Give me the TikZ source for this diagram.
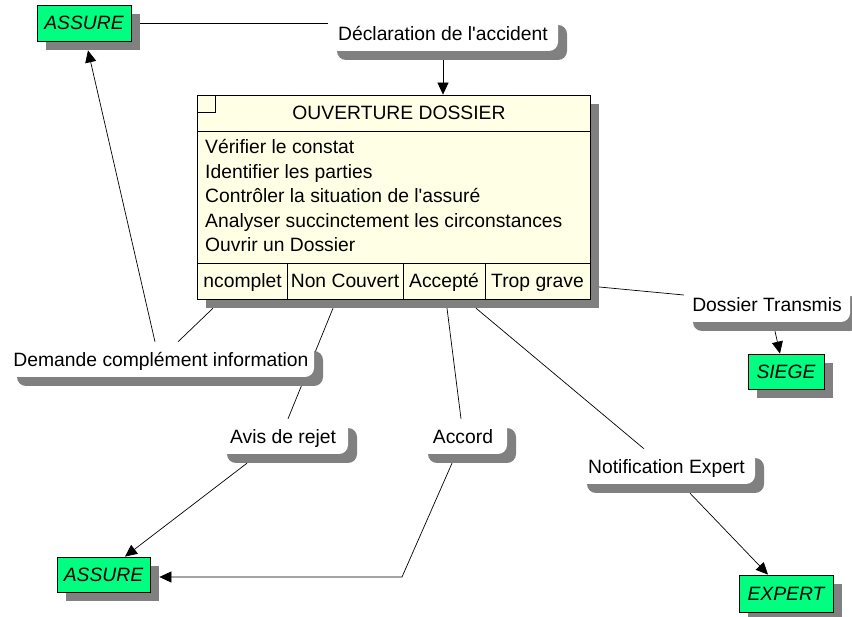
\documentclass[tikz,border=0pt]{standalone}
\usepackage{fontspec}
\setmainfont{Liberation Sans}
\newfontfamily\arialfont{Liberation Sans}
\usetikzlibrary{shadows,arrows.meta,backgrounds}
\definecolor{actorgreen}{RGB}{0,255,128}
\definecolor{shadowgray}{RGB}{128,128,128}
\definecolor{taskcream}{RGB}{255,255,229}
\newcommand\dfont{\arialfont\fontsize{19.3pt}{24pt}\selectfont}
\begin{document}
\begin{tikzpicture}[x=1pt,y=-1pt,
  txt/.style={font=\dfont, text height=14pt, text depth=0pt, inner sep=0pt},
  shadowed/.style={general shadow={fill=shadowgray, shadow xshift=9pt, shadow yshift=-9pt}},
  actor/.style={txt, shadowed, draw=black, line width=0.8pt, fill=actorgreen, font=\dfont\itshape, minimum height=36pt},
  msg/.style={txt, shadowed, fill=white, rounded corners=9pt, minimum height=35pt},
  cell/.style={txt, minimum height=36pt},
  rule/.style={line width=0.8pt},
  link/.style={line width=0.7pt},
  flow/.style={link, -{Triangle[length=12pt,width=11pt]}}
]
\useasboundingbox (0,0) rectangle (852,617);

% actors
\node[actor, minimum width=94pt] (assure1) at (84,23) {ASSURE};
\node[actor, minimum width=76pt, minimum height=35pt] (siege) at (786,371.5) {SIEGE};
\node[actor, minimum width=93pt, minimum height=35pt] (assure2) at (103.5,574.5) {ASSURE};
\node[actor, minimum width=94pt, minimum height=37pt] (expert) at (786,593.5) {EXPERT};

% messages
\node[msg, minimum width=230pt] (decl) at (443,33.5) {Déclaration de l'accident};
\node[msg, minimum width=306pt] (demande) at (161,359.5) {Demande complément information};
\node[msg, minimum width=130pt] (avis) at (283,436.5) {Avis de rejet};
\node[msg, minimum width=88pt] (accord) at (463,436.5) {Accord};
\node[msg, minimum width=177pt] (notif) at (666.5,466.5) {Notification Expert};
\node[msg, minimum width=166pt] (dossier) at (767,304.5) {Dossier Transmis};

% task box
\node[shadowed, draw=black, rule, fill=taskcream, minimum width=393pt, minimum height=204pt, inner sep=0pt] (ouv) at (393.5,197) {};
\draw[rule] (197,95) rectangle (215,112);
\draw[rule] (197,131) -- (590,131);
\draw[rule] (197,263) -- (590,263);
\draw[rule] (287,263) -- (287,299);
\draw[rule] (403,263) -- (403,299);
\draw[rule] (485,263) -- (485,299);
\node[txt] (title) at (399,113) {OUVERTURE DOSSIER};
\node[txt, anchor=west] (t1) at (205,147) {Vérifier le constat};
\node[txt, anchor=west] (t2) at (205,171.5) {Identifier les parties};
\node[txt, anchor=west] (t3) at (205,196) {Contrôler la situation de l'assuré};
\node[txt, anchor=west] (t4) at (205,220.5) {Analyser succinctement les circonstances};
\node[txt, anchor=west] (t5) at (205,245) {Ouvrir un Dossier};
\node[cell, minimum width=90pt] (cell1) at (242,281) {};
\begin{scope}
  \clip (203,263) rectangle (287,299);
  \node[txt, anchor=east] (cell1txt) at (282,281) {Incomplet};
\end{scope}
\node[cell, minimum width=116pt] (cell2) at (345,281) {Non Couvert};
\node[cell, minimum width=82pt] (cell3) at (444,281) {Accepté};
\node[cell, minimum width=105pt] (cell4) at (537.5,281) {Trop grave};

% connectors
\begin{scope}[on background layer]
  \fill[white] (0,0) rectangle (852,617);
  \draw[link] (assure1.east) -- (decl.west |- assure1.east);
  \draw[flow] (decl.south) -- (ouv.north -| decl.south);
  \draw[flow] ([xshift=-6pt]demande.north) -- ([xshift=4pt,yshift=-9pt]assure1.south);
  \draw[link] ([xshift=-29pt,yshift=-9pt]cell1.south) -- ([xshift=17pt]demande.north);
  \draw[link] ([xshift=-12pt,yshift=-9pt]cell2.south) -- ([xshift=5pt]avis.north);
  \draw[link] ([xshift=3pt,yshift=-9pt]cell3.south) -- ([xshift=-2pt]accord.north);
  \draw[link] ([xshift=-61.5pt,yshift=-9pt]cell4.south) -- ([xshift=-22.5pt]notif.north);
  \draw[link] ([xshift=9pt,yshift=-6pt]cell4.east) -- ([yshift=9.5pt]dossier.west);
  \draw[flow] ([xshift=-36pt,yshift=-9pt]avis.south) -- ([xshift=21.5pt]assure2.north);
  \coordinate (accbend) at (402,577);
  \draw[flow] ([xshift=-11pt,yshift=-9pt]accord.south) -- (accbend) -- ([xshift=9pt]assure2.east |- accbend);
  \draw[flow] ([xshift=8pt,yshift=-9pt]dossier.south) -- ([xshift=-6pt]siege.north);
  \draw[flow] ([xshift=23.5pt,yshift=-9pt]notif.south) -- ([xshift=-18pt]expert.north);
\end{scope}
\end{tikzpicture}
\end{document}
